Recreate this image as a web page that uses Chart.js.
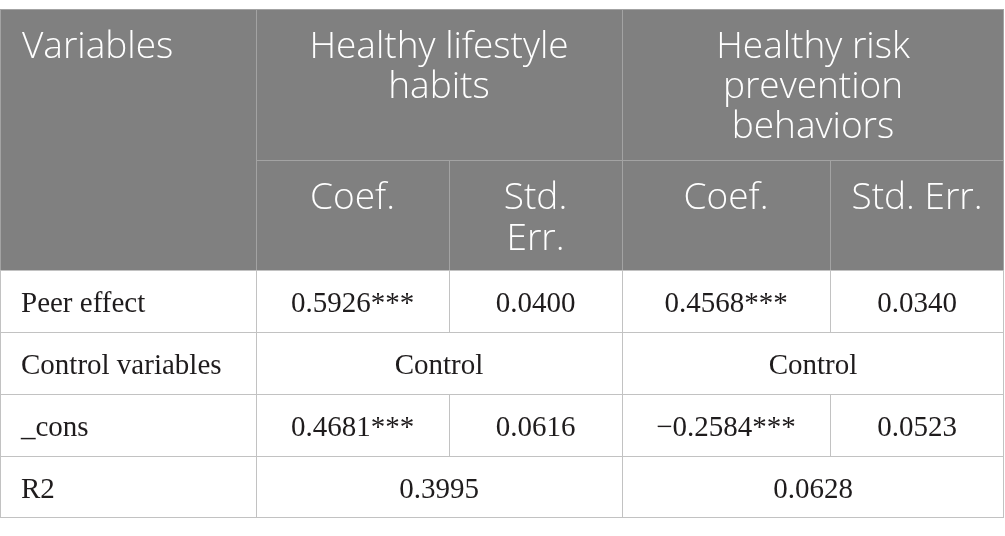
<!DOCTYPE html>
<html>
<head>
<meta charset="utf-8">
<script src="https://cdn.jsdelivr.net/npm/chart.js@4.4.1/dist/chart.umd.min.js"></script>
<style>
  html, body { margin: 0; padding: 0; background: #ffffff; }
  #tabla { display: block; }
</style>
</head>
<body>
<canvas id="tabla" width="1005" height="536"></canvas>
<script>
// datos de la tabla
const grupos = ["Healthy lifestyle\nhabits", "Healthy risk\nprevention\nbehaviors"];
const subtitulos = ["Coef.", "Std.\nErr.", "Coef.", "Std. Err."];
const filas = ["Peer effect", "Control variables", "_cons", "R2"];
const lifestyleCoef = [0.5926, 0.4681];
const lifestyleSE = [0.0400, 0.0616];
const riskCoef = [0.4568, -0.2584];
const riskSE = [0.0340, 0.0523];
const estrellas = ["***", "***"];
const r2Valores = [0.3995, 0.0628];
const textoControl = "Control";

// bordes de columnas y filas (unidades de la escala)
const bordesX = [0, 256, 449, 622, 830, 1004];
const bordesY = [9, 160, 270, 332, 394, 456, 517];

function formatear(valor) {
  const texto = Math.abs(valor).toFixed(4);
  return valor < 0 ? "\u2212" + texto : texto;
}

const celdasCuerpo = [
  [filas[0], formatear(lifestyleCoef[0]) + estrellas[0], formatear(lifestyleSE[0]), formatear(riskCoef[0]) + estrellas[0], formatear(riskSE[0])],
  [filas[1], textoControl, null, textoControl, null],
  [filas[2], formatear(lifestyleCoef[1]) + estrellas[1], formatear(lifestyleSE[1]), formatear(riskCoef[1]) + estrellas[1], formatear(riskSE[1])],
  [filas[3], formatear(r2Valores[0]), null, formatear(r2Valores[1]), null],
];

const fuenteCabecera = "350 37px 'Open Sans'";
const fuenteCuerpo = "29px 'Liberation Serif'";

function linea(ctx, x1, y1, x2, y2) {
  ctx.beginPath();
  ctx.moveTo(x1, y1);
  ctx.lineTo(x2, y2);
  ctx.stroke();
}

function textoMultilinea(ctx, texto, x, yBase, alto) {
  texto.split("\n").forEach((parte, i) => {
    ctx.fillText(parte, x, yBase + i * alto);
  });
}

const pluginTabla = {
  id: "pluginTabla",
  afterDraw(chart) {
    const ctx = chart.ctx;
    const sx = chart.scales.x;
    const sy = chart.scales.y;
    const px = bordesX.map((v) => sx.getPixelForValue(v));
    const py = bordesY.map((v) => sy.getPixelForValue(v));

    ctx.save();

    // fondo de la cabecera
    ctx.fillStyle = "#808080";
    ctx.fillRect(px[0], py[0], px[5] - px[0], py[2] - py[0]);

    // lineas de la cabecera
    ctx.strokeStyle = "#a3a3a3";
    ctx.lineWidth = 1;
    linea(ctx, px[0], py[0] + 0.5, px[5], py[0] + 0.5);
    linea(ctx, px[1] + 0.5, py[0], px[1] + 0.5, py[2]);
    linea(ctx, px[3] + 0.5, py[0], px[3] + 0.5, py[2]);
    linea(ctx, px[1], py[1] + 0.5, px[5], py[1] + 0.5);
    linea(ctx, px[2] + 0.5, py[1], px[2] + 0.5, py[2]);
    linea(ctx, px[4] + 0.5, py[1], px[4] + 0.5, py[2]);
    linea(ctx, px[5] - 0.5, py[0], px[5] - 0.5, py[2]);
    linea(ctx, px[0] + 0.5, py[0], px[0] + 0.5, py[2]);

    // lineas del cuerpo
    ctx.strokeStyle = "#c2c2c2";
    for (let f = 2; f < py.length; f++) {
      linea(ctx, px[0], py[f] + 0.5, px[5], py[f] + 0.5);
    }
    for (let f = 0; f < celdasCuerpo.length; f++) {
      const y1 = py[f + 2];
      const y2 = py[f + 3];
      linea(ctx, px[0] + 0.5, y1, px[0] + 0.5, y2);
      linea(ctx, px[1] + 0.5, y1, px[1] + 0.5, y2);
      linea(ctx, px[3] + 0.5, y1, px[3] + 0.5, y2);
      linea(ctx, px[5] - 0.5, y1, px[5] - 0.5, y2);
      if (celdasCuerpo[f][2] !== null) {
        linea(ctx, px[2] + 0.5, y1, px[2] + 0.5, y2);
        linea(ctx, px[4] + 0.5, y1, px[4] + 0.5, y2);
      }
    }

    // textos de la cabecera
    ctx.fillStyle = "#ffffff";
    ctx.font = fuenteCabecera;
    ctx.textBaseline = "alphabetic";
    ctx.textAlign = "left";
    ctx.fillText("Variables", px[0] + 22, py[0] + 49);
    ctx.textAlign = "center";
    textoMultilinea(ctx, grupos[0], (px[1] + px[3]) / 2, py[0] + 49, 40);
    textoMultilinea(ctx, grupos[1], (px[3] + px[5]) / 2, py[0] + 49, 40);
    subtitulos.forEach((texto, i) => {
      textoMultilinea(ctx, texto, (px[i + 1] + px[i + 2]) / 2, py[1] + 49, 41);
    });

    // textos del cuerpo
    ctx.fillStyle = "#1f1c1d";
    ctx.font = fuenteCuerpo;
    ctx.textBaseline = "alphabetic";
    celdasCuerpo.forEach((fila, f) => {
      const yb = py[f + 2] + 42;
      ctx.textAlign = "left";
      ctx.fillText(fila[0], px[0] + 21, yb);
      ctx.textAlign = "center";
      if (fila[2] === null) {
        ctx.fillText(fila[1], (px[1] + px[3]) / 2, yb);
        ctx.fillText(fila[3], (px[3] + px[5]) / 2, yb);
      } else {
        for (let c = 1; c <= 4; c++) {
          ctx.fillText(fila[c], (px[c] + px[c + 1]) / 2, yb);
        }
      }
    });

    ctx.restore();
  },
};

const config = {
  type: "scatter",
  data: { datasets: [] },
  options: {
    responsive: false,
    animation: false,
    layout: { padding: 0 },
    plugins: { legend: { display: false }, tooltip: { enabled: false } },
    scales: {
      x: { type: "linear", min: 0, max: 1005, display: false },
      y: { type: "linear", min: 0, max: 536, reverse: true, display: false },
    },
  },
  plugins: [pluginTabla],
};

const chartDOM = document.getElementById("tabla");
new Chart(chartDOM, config);
</script>
</body>
</html>
